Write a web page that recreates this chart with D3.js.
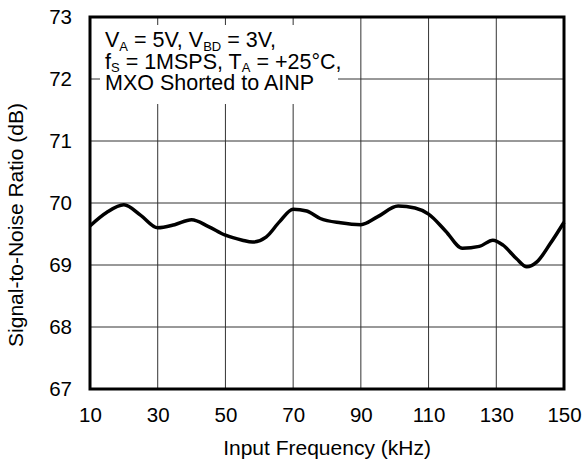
<!DOCTYPE html>
<html>
<head>
<meta charset="utf-8">
<script src="https://cdn.jsdelivr.net/npm/d3@7"></script>
<style>
  body { margin: 0; background: #fff; }
  text { font-family: "Liberation Sans", Arial, sans-serif; fill: #000; }
</style>
</head>
<body>
<div id="chart"></div>
<script>
// SNR vs input frequency
var freqKHz = [10, 15, 20, 25, 30, 35, 40, 45, 50, 55, 58, 62, 66, 70, 74, 78, 84, 90, 95, 101, 106, 110, 115, 120, 125, 129, 132, 136, 139, 142, 146, 150];
var snrDb   = [69.63, 69.85, 69.97, 69.8, 69.6, 69.65, 69.73, 69.62, 69.48, 69.4, 69.37, 69.45, 69.7, 69.9, 69.87, 69.75, 69.68, 69.65, 69.78, 69.95, 69.92, 69.82, 69.55, 69.27, 69.3, 69.4, 69.32, 69.1, 68.97, 69.05, 69.35, 69.69];

var xTicks = [10, 30, 50, 70, 90, 110, 130, 150];
var yTicks = [67, 68, 69, 70, 71, 72, 73];

var svgWidth = 582;
var svgHeight = 462;

var margin = {
  top: 17,
  right: 18,
  bottom: 73,
  left: 90
};

var width = svgWidth - margin.left - margin.right;
var height = svgHeight - margin.top - margin.bottom;

var svg = d3.select("#chart")
            .append("svg")
                .attr("width", svgWidth)
                .attr("height", svgHeight);

var chartGroup = svg.append("g")
                    .attr("transform", `translate(${margin.left}, ${margin.top})`);

var xScale = d3.scaleLinear().domain([10, 150]).range([0, width]);
var yScale = d3.scaleLinear().domain([67, 73]).range([height, 0]);

// grid
chartGroup.append("g")
    .selectAll("line")
    .data(xTicks.slice(1, -1))
    .enter().append("line")
        .attr("x1", d => xScale(d))
        .attr("x2", d => xScale(d))
        .attr("y1", 0)
        .attr("y2", height)
        .attr("stroke", "#333")
        .attr("stroke-width", 1);

chartGroup.append("g")
    .selectAll("line")
    .data(yTicks.slice(1, -1))
    .enter().append("line")
        .attr("x1", 0)
        .attr("x2", width)
        .attr("y1", d => yScale(d))
        .attr("y2", d => yScale(d))
        .attr("stroke", "#333")
        .attr("stroke-width", 1);

// axes (labels only, frame drawn separately)
var bottomAxis = d3.axisBottom(xScale).tickValues(xTicks).tickSize(0).tickPadding(18).tickFormat(d3.format("d"));
var leftAxis = d3.axisLeft(yScale).tickValues(yTicks).tickSize(0).tickPadding(18).tickFormat(d3.format("d"));

var xAxis = chartGroup.append("g")
    .attr("transform", `translate(0, ${height})`)
    .call(bottomAxis);
var yAxis = chartGroup.append("g")
    .call(leftAxis);

[xAxis, yAxis].forEach(function(ax) {
  ax.select(".domain").remove();
  ax.selectAll("text")
    .style("font-size", "20.5px")
    .style("font-family", "'Liberation Sans', Arial, sans-serif")
    .attr("fill", "#000");
});

// data line
var line = d3.line()
    .x((d, i) => xScale(freqKHz[i]))
    .y(d => yScale(d))
    .curve(d3.curveMonotoneX);

chartGroup.append("path")
    .datum(snrDb)
    .attr("d", line)
    .attr("fill", "none")
    .attr("stroke", "#000")
    .attr("stroke-width", 3.5)
    .attr("stroke-linejoin", "round");

// frame
chartGroup.append("rect")
    .attr("x", 0)
    .attr("y", 0)
    .attr("width", width)
    .attr("height", height)
    .attr("fill", "none")
    .attr("stroke", "#000")
    .attr("stroke-width", 3);

// axis titles
svg.append("text")
    .attr("x", margin.left + width / 2)
    .attr("y", 455)
    .attr("text-anchor", "middle")
    .style("font-size", "21px")
    .text("Input Frequency (kHz)");

svg.append("text")
    .attr("transform", "translate(23, 225) rotate(-90)")
    .attr("text-anchor", "middle")
    .style("font-size", "21px")
    .text("Signal-to-Noise Ratio (dB)");

// conditions note, on a white box that hides the grid behind it
var note = chartGroup.append("g")
    .attr("transform", "translate(15, 0)");

note.append("rect")
    .attr("x", -5)
    .attr("y", 8)
    .attr("width", 238)
    .attr("height", 79)
    .attr("fill", "#fff");

var l1 = note.append("text").attr("y", 30).style("font-size", "21.5px");
l1.append("tspan").text("V");
l1.append("tspan").attr("dy", 3.5).style("font-size", "13px").text("A");
l1.append("tspan").attr("dy", -3.5).text(" = 5V, V");
l1.append("tspan").attr("dy", 3.5).style("font-size", "13px").text("BD");
l1.append("tspan").attr("dy", -3.5).text(" = 3V,");

var l2 = note.append("text").attr("y", 51.5).style("font-size", "21.5px");
l2.append("tspan").text("f");
l2.append("tspan").attr("dy", 3.5).style("font-size", "13px").text("S");
l2.append("tspan").attr("dy", -3.5).text(" = 1MSPS, T");
l2.append("tspan").attr("dy", 3.5).style("font-size", "13px").text("A");
l2.append("tspan").attr("dy", -3.5).text(" = +25°C,");

note.append("text")
    .attr("y", 73)
    .style("font-size", "21.5px")
    .text("MXO Shorted to AINP");
</script>
</body>
</html>
